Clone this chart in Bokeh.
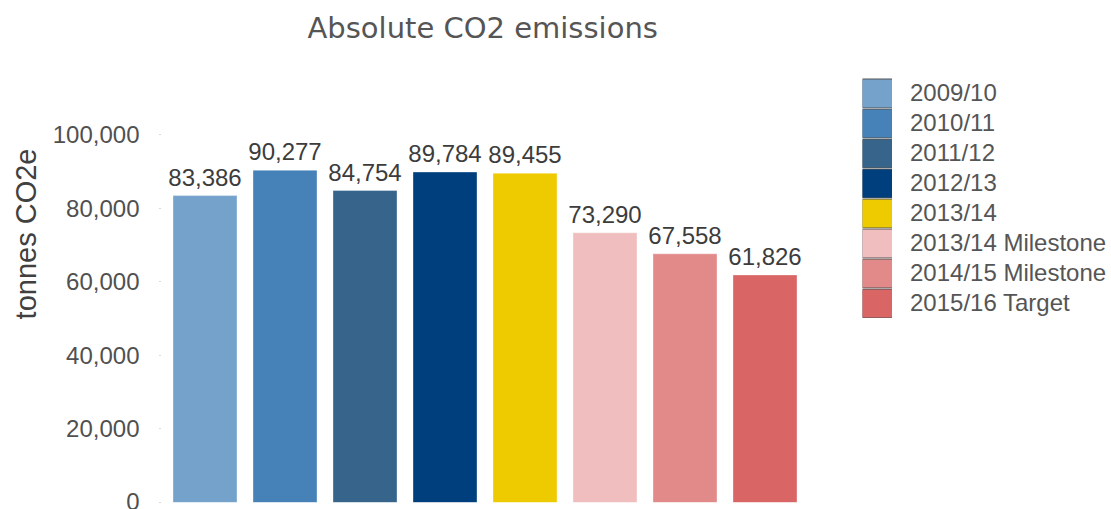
from bokeh.core.properties import value
from bokeh.embed import file_html
from bokeh.models import (ColumnDataSource, FixedTicker, LabelSet, Legend,
                          LegendItem, NumeralTickFormatter, Range1d, Title)
from bokeh.plotting import figure
from bokeh.resources import INLINE

# Reporting periods and absolute emissions (tonnes CO2e)
periods = ["2009/10", "2010/11", "2011/12", "2012/13", "2013/14",
           "2013/14 Milestone", "2014/15 Milestone", "2015/16 Target"]
emissions = [83386, 90277, 84754, 89784, 89455, 73290, 67558, 61826]
bar_colors = ["#75A2CB", "#4682B8", "#36648B", "#003F7E", "#EECA00",
              "#F0BEBF", "#E28A89", "#D96565"]
y_ticks = [0, 20000, 40000, 60000, 80000, 100000]

source = ColumnDataSource(dict(
    slot=list(range(len(periods))),
    period=periods,
    tonnes=emissions,
    color=bar_colors,
    label=[f"{v:,}" for v in emissions],
))

# The plot frame spans to the right edge so the legend sits inside it;
# the bars occupy the left part of the x range.
p = figure(
    width=1111, height=509,
    output_backend="svg", toolbar_location=None,
    x_range=Range1d(-0.55625, 11.33125),
    y_range=Range1d(0, 122800),
    min_border_left=160, min_border_right=0,
    min_border_top=50, min_border_bottom=7,
    title=None,
)
p.outline_line_color = None
p.background_fill_color = "white"
p.border_fill_color = "white"
p.xgrid.grid_line_color = None
p.ygrid.grid_line_color = None
p.xaxis.visible = False

# Chart title, centred over the bars
p.add_layout(Title(
    text="Absolute CO2 emissions", align="left", offset=147, standoff=12,
    text_font="DejaVu Sans", text_font_size="29px",
    text_font_style="normal", text_color="#555555",
), "above")

# Value axis
yax = p.yaxis[0]
yax.ticker = FixedTicker(ticks=y_ticks)
yax.formatter = NumeralTickFormatter(format="0,0")
yax.axis_line_color = None
yax.major_tick_line_color = "#b0b0b0"
yax.major_tick_in = 0
yax.major_tick_out = 1
yax.minor_tick_line_color = None
yax.major_label_standoff = 20
yax.major_label_text_font = "Liberation Sans"
yax.major_label_text_font_size = "24px"
yax.major_label_text_color = "#505050"

# Axis title, placed toward the top of the value axis
p.add_layout(Title(
    text="tonnes CO2e", align="right", offset=98, standoff=15,
    text_font="Liberation Sans", text_font_size="29px",
    text_font_style="normal", text_color="#404040",
), "left")

# Bars
p.vbar(x="slot", top="tonnes", width=0.8, source=source,
       fill_color="color", line_color="white", line_alpha=0.35, line_width=1)

# Value labels above the bars
p.add_layout(LabelSet(
    x="slot", y="tonnes", text="label", source=source,
    y_offset=10, text_align="center", text_baseline="alphabetic",
    text_font=value("Liberation Sans"), text_font_size=value("24px"),
    text_color="#3c3c3c",
))

# Legend swatches: a dark edge under a slightly thinner coloured band,
# drawn by renderers that stay below the visible range
swatch_edge = p.segment(x0="slot", x1="slot", y0=-2e6, y1=-2e6, source=source,
                        line_color="#555555", line_width=30, line_cap="butt")
swatch_fill = p.segment(x0="slot", x1="slot", y0=-2e6, y1=-2e6, source=source,
                        line_color="color", line_width=28, line_cap="butt")

legend = Legend(
    items=[LegendItem(label=value(name), renderers=[swatch_edge, swatch_fill],
                      index=i)
           for i, name in enumerate(periods)],
    location=(702, 184),
    orientation="vertical",
    glyph_width=30, glyph_height=30, spacing=0,
    padding=0, margin=0, label_standoff=18,
    label_text_font="Liberation Sans", label_text_font_size="24px",
    label_text_color="#555555",
    border_line_color=None, background_fill_alpha=0,
)
p.add_layout(legend)

open("out.html", "w").write(file_html(p, INLINE))
